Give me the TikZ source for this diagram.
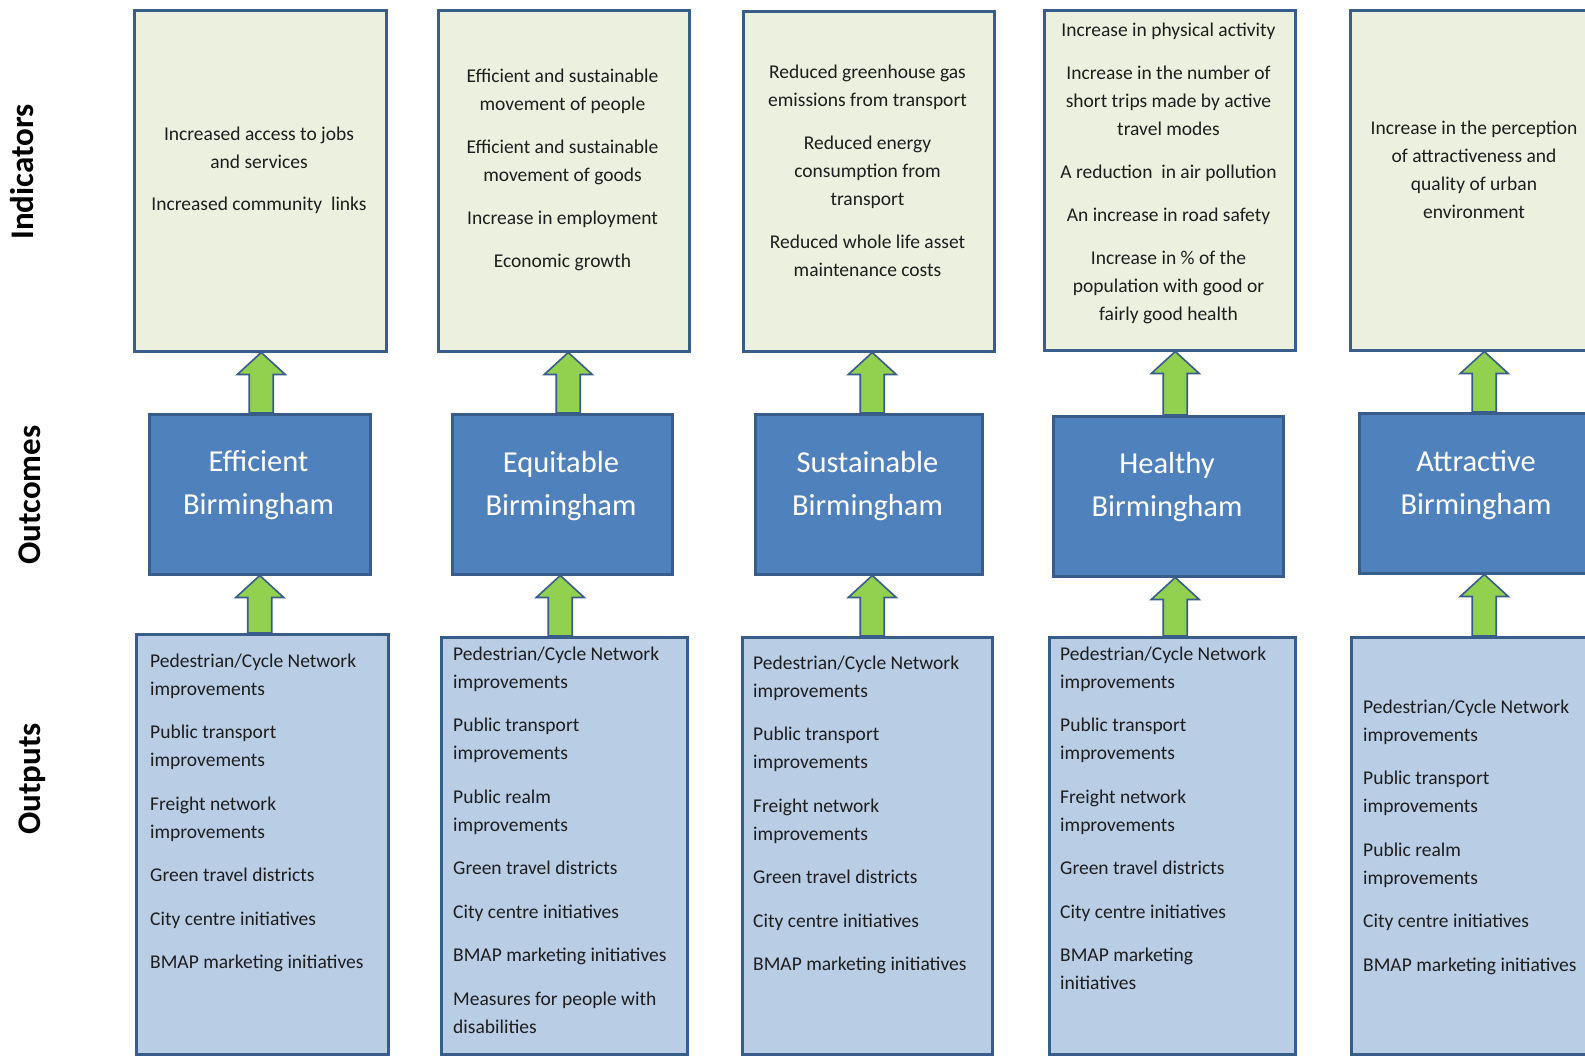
\documentclass[tikz,border=0pt]{standalone}
\usepackage{fontspec}
\setmainfont{Carlito}
\usetikzlibrary{calc}

\definecolor{indfill}{HTML}{EBF1DE}
\definecolor{outfill}{HTML}{B9CDE5}
\definecolor{midfill}{HTML}{4F81BD}
\definecolor{edgeblue}{HTML}{385D8A}
\definecolor{liftgreen}{HTML}{92D050}
\definecolor{ink}{HTML}{1E1E1E}

\tikzset{
  box/.style={rectangle, draw=edgeblue, line width=2.5pt, inner sep=0pt, anchor=north west},
  indbox/.style={box, fill=indfill},
  midbox/.style={box, fill=midfill},
  outbox/.style={box, fill=outfill},
  indtext/.style={anchor=base, inner sep=0pt, text=ink, font=\fontsize{19.5}{28}\selectfont},
  midtext/.style={anchor=base, inner sep=0pt, text=white, font=\fontsize{30.5}{43}\selectfont},
  outtext/.style={anchor=base west, inner sep=0pt, text=ink, font=\fontsize{19.5}{28}\selectfont},
  sidelabel/.style={anchor=base, rotate=90, inner sep=0pt, text=black, font=\fontsize{33}{40}\selectfont\bfseries},
  liftarrow/.style={draw=edgeblue, line width=1.6pt, fill=liftgreen, line join=miter},
}

% centred and left-aligned text blocks, first baseline on the anchor
\newcommand\ctrblock[2]{\begin{minipage}[t]{#1pt}\centering #2\end{minipage}}
\newcommand\lftblock[2]{\begin{minipage}[t]{#1pt}\raggedright #2\end{minipage}}

% block arrow pointing up from #1 (tail) to #2 (tip), moved sideways by #3
\newcommand\liftup[3]{%
  \path (#2) ++(#3,0) coordinate (tipc) (#1) ++(#3,0) coordinate (tailc);
  \draw[liftarrow] ($(tipc|-tailc)+(-12,0)$) -- ($(tipc)+(-12,22)$) -- ($(tipc)+(-24,22)$)
    -- (tipc) -- ($(tipc)+(24,22)$) -- ($(tipc)+(12,22)$) -- ($(tipc|-tailc)+(12,0)$) -- cycle;}

\begin{document}
\begin{tikzpicture}[x=1pt,y=-1pt]
\useasboundingbox (0,0) rectangle (1585,1055);
\clip (0,0) rectangle (1585,1055);
\fill[white] (0,0) rectangle (1585,1055);

% row labels
\node[sidelabel] (lblind) at (34,172) {Indicators};
\node[sidelabel] (lblmid) at (40,495) {Outcomes};
\node[sidelabel] (lblout) at (40,779) {Outputs};

% indicator boxes
\node[indbox, minimum width=252pt, minimum height=341pt] (ind1) at (133,9) {};
\node[indbox, minimum width=251pt, minimum height=341pt] (ind2) at (437,9) {};
\node[indbox, minimum width=251pt, minimum height=340pt] (ind3) at (742,10) {};
\node[indbox, minimum width=251pt, minimum height=340pt] (ind4) at (1043,9) {};
\node[indbox, minimum width=252pt, minimum height=340pt] (ind5) at (1349,9) {};

% outcome boxes
\node[midbox, minimum width=221pt, minimum height=160pt] (mid1) at (148,413) {};
\node[midbox, minimum width=220pt, minimum height=160pt] (mid2) at (451,413) {};
\node[midbox, minimum width=227pt, minimum height=160pt] (mid3) at (754,413) {};
\node[midbox, minimum width=230pt, minimum height=160pt] (mid4) at (1052,415) {};
\node[midbox, minimum width=236pt, minimum height=160pt] (mid5) at (1358,412) {};

% output boxes
\node[outbox, minimum width=252pt, minimum height=420pt] (out1) at (135,633) {};
\node[outbox, minimum width=246pt, minimum height=417pt] (out2) at (440,636) {};
\node[outbox, minimum width=250pt, minimum height=417pt] (out3) at (741,636) {};
\node[outbox, minimum width=246pt, minimum height=417pt] (out4) at (1048,636) {};
\node[outbox, minimum width=252pt, minimum height=417pt] (out5) at (1350,636) {};

% arrows from outputs to outcomes and from outcomes to indicators
\liftup{mid1.north}{ind1.south}{1}
\liftup{mid2.north}{ind2.south}{4.5}
\liftup{mid3.north}{ind3.south}{3.5}
\liftup{mid4.north}{ind4.south}{5.5}
\liftup{mid5.north}{ind5.south}{8}
\liftup{out1.north}{mid1.south}{0}
\liftup{out2.north}{mid2.south}{-2}
\liftup{out3.north}{mid3.south}{3.5}
\liftup{out4.north}{mid4.south}{7}
\liftup{out5.north}{mid5.south}{7}

% indicator texts
\node[indtext] (ind1t) at (259,140) {\ctrblock{248}{Increased access to jobs\\and services\\[14.5pt]Increased community~ links}};
\node[indtext] (ind2t) at (562.5,82) {\ctrblock{248}{Efficient and sustainable\\movement of people\\[15pt]Efficient and sustainable\\movement of goods\\[15pt]Increase in employment\\[15pt]Economic growth}};
\node[indtext] (ind3t) at (867.5,78) {\ctrblock{248}{Reduced greenhouse gas\\emissions from transport\\[15pt]Reduced energy\\consumption from\\transport\\[15pt]Reduced whole life asset\\maintenance costs}};
\node[indtext] (ind4t) at (1168.5,36) {\ctrblock{248}{Increase in physical activity\\[15pt]Increase in the number of\\short trips made by active\\travel modes\\[15pt]A reduction~ in air pollution\\[15pt]An increase in road safety\\[15pt]Increase in \% of the\\population with good or\\fairly good health}};
\node[indtext] (ind5t) at (1474,134) {\ctrblock{248}{Increase in the perception\\of attractiveness and\\quality of urban\\environment}};

% outcome texts
\node[midtext] (mid1t) at (258.5,471) {\ctrblock{218}{Efficient\\Birmingham}};
\node[midtext] (mid2t) at (561,472) {\ctrblock{218}{Equitable\\Birmingham}};
\node[midtext] (mid3t) at (867.5,472) {\ctrblock{225}{Sustainable\\Birmingham}};
\node[midtext] (mid4t) at (1167,473) {\ctrblock{228}{Healthy\\Birmingham}};
\node[midtext] (mid5t) at (1476,471) {\ctrblock{234}{Attractive\\Birmingham}};

% output texts
\node[outtext] (out1t) at (150,667) {\lftblock{236}{Pedestrian/Cycle Network\\improvements\\[15.5pt]Public transport\\improvements\\[15.5pt]Freight network\\improvements\\[15.5pt]Green travel districts\\[15.5pt]City centre initiatives\\[15.5pt]BMAP marketing initiatives}};
\node[outtext] (out2t) at (453,660) {\lftblock{232}{Pedestrian/Cycle Network\\improvements\\[15.5pt]Public transport\\improvements\\[15.5pt]Public realm\\improvements\\[15.5pt]Green travel districts\\[15.5pt]City centre initiatives\\[15.5pt]BMAP marketing initiatives\\[15.5pt]Measures for people with\\disabilities}};
\node[outtext] (out3t) at (753,669) {\lftblock{236}{Pedestrian/Cycle Network\\improvements\\[15.5pt]Public transport\\improvements\\[15.5pt]Freight network\\improvements\\[15.5pt]Green travel districts\\[15.5pt]City centre initiatives\\[15.5pt]BMAP marketing initiatives}};
\node[outtext] (out4t) at (1060,660) {\lftblock{232}{Pedestrian/Cycle Network\\improvements\\[15.5pt]Public transport\\improvements\\[15.5pt]Freight network\\improvements\\[15.5pt]Green travel districts\\[15.5pt]City centre initiatives\\[15.5pt]BMAP marketing\\initiatives}};
\node[outtext] (out5t) at (1363,713) {\lftblock{236}{Pedestrian/Cycle Network\\improvements\\[15.5pt]Public transport\\improvements\\[15.5pt]Public realm\\improvements\\[15.5pt]City centre initiatives\\[15.5pt]BMAP marketing initiatives}};
\end{tikzpicture}
\end{document}
